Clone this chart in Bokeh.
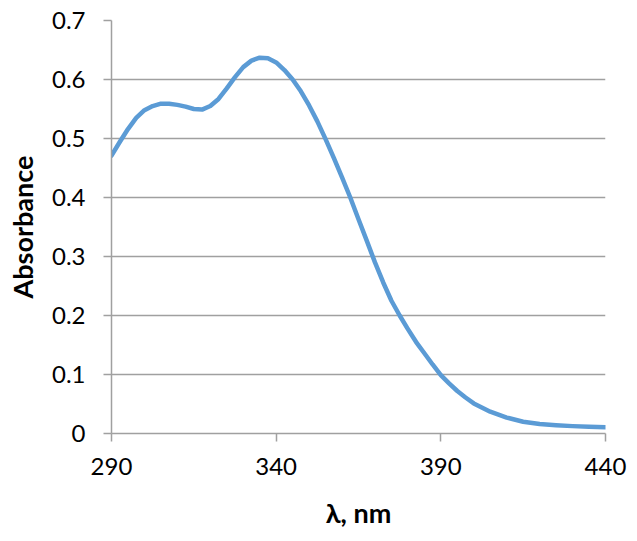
from bokeh.plotting import figure
from bokeh.embed import file_html
from bokeh.resources import INLINE
from bokeh.models import FixedTicker, Range1d

wavelength = [290, 292.5, 295, 297.5, 300, 302.5, 305, 307.5, 310, 312.5, 315, 317.5,
              320, 322.5, 325, 327.5, 330, 332.5, 335, 337.5, 340, 342.5, 345, 347.5,
              350, 352.5, 355, 357.5, 360, 362.5, 365, 367.5, 370, 372.5, 375, 377.5,
              380, 382.5, 385, 387.5, 390, 392.5, 395, 397.5, 400, 405, 410, 415, 420,
              425, 430, 435, 440]
absorbance = [0.471, 0.494, 0.516, 0.535, 0.548, 0.555, 0.559, 0.559, 0.557, 0.554, 0.550, 0.549,
              0.555, 0.567, 0.585, 0.604, 0.621, 0.632, 0.637, 0.636, 0.629, 0.616, 0.600, 0.580,
              0.556, 0.529, 0.499, 0.467, 0.434, 0.400, 0.363, 0.327, 0.290, 0.256, 0.225, 0.200,
              0.177, 0.155, 0.136, 0.117, 0.099, 0.085, 0.072, 0.061, 0.051, 0.037, 0.027, 0.020, 0.016,
              0.014, 0.0125, 0.0115, 0.0105]
x_ticks = [290, 340, 390, 440]
y_ticks = [0, 0.1, 0.2, 0.3, 0.4, 0.5, 0.6, 0.7]
y_labels = {0: "0", 0.1: "0.1", 0.2: "0.2", 0.3: "0.3", 0.4: "0.4", 0.5: "0.5", 0.6: "0.6", 0.7: "0.7"}

FONT = "Lato"
GRAY = "#a0a0a0"

p = figure(width=629, height=533, output_backend="svg", toolbar_location=None,
           x_range=Range1d(290, 440), y_range=Range1d(0, 0.7),
           min_border_left=111, min_border_right=24, min_border_top=20, min_border_bottom=100)
p.outline_line_color = None
p.background_fill_color = "white"
p.border_fill_color = "white"

p.line(wavelength, absorbance, line_color="#5b9bd5", line_width=4.5,
       line_join="round", line_cap="round")

p.xgrid.grid_line_color = None
p.ygrid.grid_line_color = GRAY
p.ygrid.grid_line_width = 1.5
p.ygrid.ticker = FixedTicker(ticks=y_ticks)

p.xaxis.ticker = FixedTicker(ticks=x_ticks)
p.yaxis.ticker = FixedTicker(ticks=y_ticks)
p.yaxis.major_label_overrides = y_labels

for ax in (p.xaxis, p.yaxis):
    ax.axis_line_color = GRAY
    ax.axis_line_width = 1.5
    ax.major_tick_line_color = GRAY
    ax.major_tick_line_width = 1.5
    ax.major_tick_out = 8
    ax.major_tick_in = 0
    ax.minor_tick_line_color = None
    ax.major_label_text_font = FONT
    ax.major_label_text_font_size = "24px"
    ax.major_label_text_color = "black"
    ax.axis_label_text_font = FONT
    ax.axis_label_text_font_size = "27px"
    ax.axis_label_text_font_style = "bold"
    ax.axis_label_text_color = "black"

p.xaxis.axis_label = "λ, nm"
p.yaxis.axis_label = "Absorbance"
p.yaxis.major_label_standoff = 18
p.xaxis.major_label_standoff = 16
p.xaxis.axis_label_standoff = 18
p.yaxis.axis_label_standoff = 10

open("out.html", "w").write(file_html(p, INLINE))
